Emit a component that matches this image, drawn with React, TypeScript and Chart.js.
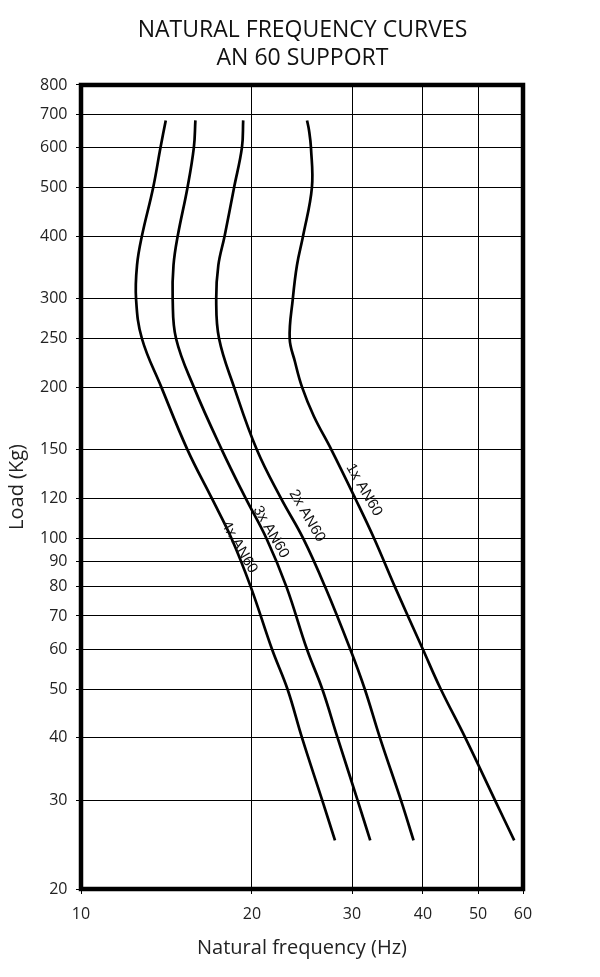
import { useEffect, useRef } from "react";
import { Chart, registerables } from "chart.js";

Chart.register(...registerables);

// Load (Kg) values along each curve, and the matching natural frequency (Hz)
const loads1x = [680, 650, 600, 500, 400, 350, 300, 250, 225, 200, 175, 150, 120, 100, 80, 60, 50, 40, 30, 25];
const freq1x = [25.0, 25.2, 25.4, 25.5, 24.6, 24.0, 23.6, 23.3, 23.8, 24.5, 25.7, 27.6, 30.4, 32.8, 35.7, 40.0, 43.0, 47.5, 53.6, 57.9];

const loads2x = [680, 600, 500, 400, 350, 300, 250, 200, 150, 120, 100, 80, 60, 50, 40, 30, 25];
const freq2x = [19.3, 19.2, 18.6, 17.9, 17.45, 17.3, 17.5, 18.6, 20.4, 22.5, 24.6, 26.9, 29.8, 31.6, 33.6, 36.6, 38.5];

const loads3x = [680, 600, 500, 400, 350, 300, 250, 200, 150, 120, 100, 80, 60, 50, 40, 30, 25];
const freq3x = [15.9, 15.8, 15.4, 14.8, 14.55, 14.5, 14.7, 15.8, 17.7, 19.5, 21.2, 23.0, 25.0, 26.6, 28.3, 30.7, 32.3];

const loads4x = [680, 600, 500, 400, 350, 300, 250, 200, 150, 120, 100, 80, 60, 50, 40, 30, 25];
const freq4x = [14.1, 13.8, 13.4, 12.8, 12.55, 12.5, 12.8, 13.85, 15.4, 17.0, 18.4, 19.9, 21.7, 23.1, 24.5, 26.6, 28.0];

const xTicks = [10, 20, 30, 40, 50, 60];
const yTicks = [20, 30, 40, 50, 60, 70, 80, 90, 100, 120, 150, 200, 250, 300, 400, 500, 600, 700, 800];

const curveLabels = ["1x AN60", "2x AN60", "3x AN60", "4x AN60"];
const curveLabelFreq = [31.5, 25.0, 21.6, 19.0];
const curveLabelLoad = [124.8, 110.8, 102.9, 96.0];

const titleLines = ["NATURAL FREQUENCY CURVES", "AN 60 SUPPORT"];
const xTitle = "Natural frequency (Hz)";
const yTitle = "Load (Kg)";

const FONT = "'Open Sans', 'Noto Sans', sans-serif";

function toPoints(freqs: number[], loads: number[]) {
  return freqs.map((f, i) => ({ x: f, y: loads[i] }));
}

const framePlugin = {
  id: "frame",
  afterDraw(chart: any) {
    const { ctx, chartArea } = chart;
    ctx.save();
    ctx.strokeStyle = "#000";
    ctx.lineWidth = 4.5;
    ctx.strokeRect(chartArea.left, chartArea.top, chartArea.right - chartArea.left, chartArea.bottom - chartArea.top);
    ctx.restore();
  },
};

const curveLabelPlugin = {
  id: "curveLabels",
  afterDatasetsDraw(chart: any) {
    const { ctx } = chart;
    const xs = chart.scales.x;
    const ys = chart.scales.y;
    ctx.save();
    ctx.fillStyle = "#111";
    ctx.font = "15px 'Liberation Sans', Arial, sans-serif";
    ctx.textAlign = "center";
    ctx.textBaseline = "middle";
    curveLabels.forEach((t, i) => {
      const px = xs.getPixelForValue(curveLabelFreq[i]);
      const py = ys.getPixelForValue(curveLabelLoad[i]);
      ctx.save();
      ctx.translate(px, py);
      ctx.rotate((60 * Math.PI) / 180);
      ctx.fillText(t, 0, 0);
      ctx.restore();
    });
    ctx.restore();
  },
};

export default function App() {
  const canvasRef = useRef<HTMLCanvasElement | null>(null);

  useEffect(() => {
    document.body.style.margin = "0";
    const canvas = canvasRef.current;
    if (!canvas) return;

    const lineDs = (label: string, freqs: number[], loads: number[]) => ({
      label,
      data: toPoints(freqs, loads),
      borderColor: "#000",
      borderWidth: 2.7,
      borderCapStyle: "butt",
      borderJoinStyle: "round",
      pointRadius: 0,
      pointHoverRadius: 0,
      tension: 0.4,
      yAxisID: "y",
      xAxisID: "x",
      fill: false,
    });

    const chart = new Chart(canvas, {
      type: "line",
      data: {
        datasets: [
          lineDs("1x AN60", freq1x, loads1x),
          lineDs("2x AN60", freq2x, loads2x),
          lineDs("3x AN60", freq3x, loads3x),
          lineDs("4x AN60", freq4x, loads4x),
        ],
      },
      options: {
        responsive: false,
        animation: false,
        devicePixelRatio: 1,
        layout: { padding: { left: 5, right: 0, top: 0, bottom: 0 } },
        plugins: {
          legend: { display: false },
          tooltip: { enabled: false },
          title: {
            display: true,
            text: titleLines,
            color: "#111",
            font: { family: FONT, size: 23, weight: "normal", lineHeight: 1.23 },
            padding: { top: 16.2, bottom: 12.2 },
          },
        },
        scales: {
          x: {
            type: "logarithmic",
            position: "bottom",
            min: 10,
            max: 60,
            afterBuildTicks(scale: any) {
              scale.ticks = xTicks.map((v) => ({ value: v }));
            },
            afterFit(scale: any) {
              scale.height = 88;
            },
            ticks: {
              autoSkip: false,
              maxRotation: 0,
              color: "#222",
              font: { family: FONT, size: 16 },
              padding: 11,
              callback: (v: any) => String(v),
            },
            grid: { color: "#000", lineWidth: 1, drawTicks: true, tickLength: 5 },
            border: { display: false },
            title: {
              display: true,
              text: xTitle,
              color: "#222",
              font: { family: FONT, size: 20 },
              padding: { top: 0, bottom: 17 },
            },
          },
          y: {
            type: "logarithmic",
            position: "left",
            min: 20,
            max: 800,
            afterBuildTicks(scale: any) {
              scale.ticks = yTicks.map((v) => ({ value: v }));
            },
            afterFit(scale: any) {
              scale.width = 76;
            },
            ticks: {
              autoSkip: false,
              color: "#222",
              font: { family: FONT, size: 16 },
              padding: 8.5,
              callback: (v: any) => String(v),
            },
            grid: { color: "#000", lineWidth: 1, drawTicks: true, tickLength: 5 },
            border: { display: false },
            title: {
              display: true,
              text: yTitle,
              color: "#222",
              font: { family: FONT, size: 20 },
              padding: { top: 0.6, bottom: 0 },
            },
          },
          ySpacer: {
            type: "linear",
            position: "right",
            display: true,
            grid: { display: false, drawTicks: false },
            border: { display: false },
            ticks: { display: false },
            afterFit(scale: any) {
              scale.width = 77;
            },
          },
        },
      },
      plugins: [curveLabelPlugin, framePlugin],
    } as any);

    return () => chart.destroy();
  }, []);

  return (
    <div style={{ width: 600, height: 977 }}>
      <canvas ref={canvasRef} width={600} height={977} style={{ display: "block", width: 600, height: 977 }} />
    </div>
  );
}
